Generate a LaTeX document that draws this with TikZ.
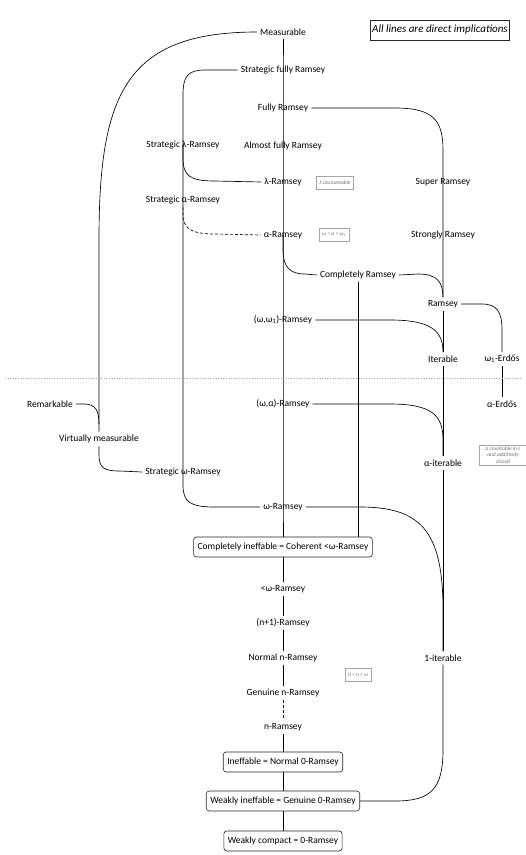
\documentclass[tikz,border=0pt]{standalone}
\usepackage{fontspec}
\setmainfont{Carlito}
\usetikzlibrary{backgrounds}
\begin{document}
\begin{tikzpicture}[x=1pt,y=-1pt,
  lbl/.style={font=\fontsize{9.5}{11}\selectfont, text=black, inner sep=3pt},
  bx/.style={lbl, draw=black!85, rounded corners=3pt, fill=white, minimum height=20pt, inner xsep=4pt, line width=0.6pt},
  note/.style={draw=black!35, text=black!55, font=\fontsize{5.5}{6.5}\selectfont\itshape, inner xsep=3pt, inner ysep=2pt, minimum height=13pt, align=center, line width=0.5pt},
  imp/.style={line width=0.65pt, draw=black},
  dsh/.style={imp, dash pattern=on 3pt off 2pt}]
\useasboundingbox (0,0) rectangle (526,855);
% title note
\node[draw=black!85, line width=0.6pt, font=\fontsize{11}{13}\selectfont\itshape, inner xsep=2pt, minimum height=20pt] (title) at (440,30) {All lines are direct implications};
% central column
\node[lbl] (m) at (283,32) {Measurable};
\node[lbl] (sfr) at (283,70) {Strategic fully Ramsey};
\node[lbl] (fr) at (283,108) {Fully Ramsey};
\node[lbl] (afr) at (283,146) {Almost fully Ramsey};
\node[lbl] (lr) at (283,182) {λ-Ramsey};
\node[lbl] (ar) at (283,235) {α-Ramsey};
\node[lbl] (ww1) at (283,320) {(ω,ω\textsubscript{1})-Ramsey};
\node[lbl] (wa) at (283,404) {(ω,α)-Ramsey};
\node[lbl] (wr) at (283,507) {ω-Ramsey};
\node[bx] (ci) at (283,547) {Completely ineffable = Coherent <ω-Ramsey};
\node[lbl] (lwr) at (283,589) {<ω-Ramsey};
\node[lbl] (n1) at (283,623) {(n+1)-Ramsey};
\node[lbl] (nn) at (283,658) {Normal n-Ramsey};
\node[lbl] (gn) at (283,693) {Genuine n-Ramsey};
\node[lbl] (nr) at (283,727) {n-Ramsey};
\node[bx] (ine) at (283,762) {Ineffable = Normal 0-Ramsey};
\node[bx] (wi) at (283,801) {Weakly ineffable = Genuine 0-Ramsey};
\node[bx] (wc) at (283,841) {Weakly compact = 0-Ramsey};
% left columns
\node[lbl] (slr) at (183,145) {Strategic λ-Ramsey};
\node[lbl] (sar) at (183,200) {Strategic α-Ramsey};
\node[lbl] (swr) at (183,472) {Strategic ω-Ramsey};
\node[lbl] (rem) at (50,404) {Remarkable};
\node[lbl] (vm) at (99,439) {Virtually measurable};
% right columns
\node[lbl] (sr) at (443,182) {Super Ramsey};
\node[lbl] (str) at (443,235) {Strongly Ramsey};
\node[lbl] (cr) at (358,275) {Completely Ramsey};
\node[lbl] (ram) at (443,304) {Ramsey};
\node[lbl] (it) at (443,359) {Iterable};
\node[lbl] (ai) at (443,463) {α-iterable};
\node[lbl] (oi) at (443,658) {1-iterable};
\node[lbl] (e1) at (502,359) {ω\textsubscript{1}-Erdős};
\node[lbl] (ea) at (502,404) {α-Erdős};
% annotations
\node[note] (nl) at (335,183) {λ uncountable};
\node[note] (na) at (334,235) {ω < α < ω\textsubscript{1}};
\node[note] (nn0) at (358,675) {0 < n < ω};
\node[note, minimum width=48pt, inner ysep=1.5pt] (nc) at (503,455) {α countable in L\\and additively\\closed};
% separator
\draw[black!35, dotted, line width=0.6pt] (5,378) -- (521,378);
\begin{scope}[on background layer]
% central vertical
\draw[imp] (m) -- (sfr.center) -- (fr.center) -- (afr.center) -- (lr.center) -- (ar.center) -- (ww1.center) -- (wa.center) -- (wr.center) -- (ci);
\draw[imp] (ci) -- (lwr);
\draw[imp] (lwr) -- (n1);
\draw[imp] (n1) -- (nn);
\draw[imp] (nn) -- (gn);
\draw[dsh] (gn) -- (nr);
\draw[imp] (nr) -- (ine);
\draw[imp] (ine) -- (wi);
\draw[imp] (wi) -- (wc);
% measurable to virtually measurable
\draw[imp] (m.west) .. controls (125,32) and (99,95) .. (99,240) -- (vm.north);
\draw[imp] (rem.east) -- (84,404) .. controls (96,404) and (99,411) .. (99,424);
\draw[imp] (vm.south) -- (99,455) .. controls (99,468) and (104,471) .. (120,471) -- (swr.west);
% strategic column
\draw[imp] (sfr.west) -- (205,70) .. controls (188,70) and (183,76) .. (183,95) -- (slr.center) -- (sar.center) -- (swr.center);
\draw[imp] (slr.center) -- (183,158) .. controls (183,176) and (190,181) .. (215,181) -- (lr.west);
\draw[dsh] (sar.south) -- (183,214) .. controls (183,228) and (190,234) .. (215,234) -- (ar.west);
\draw[imp] (swr.center) -- (183,485) .. controls (183,502) and (190,507) .. (215,507) -- (wr.west);
% right column
\draw[imp] (fr.east) -- (395,108) .. controls (433,108) and (443,120) .. (443,150) -- (sr.center) -- (str.center) -- (ram.north);
\draw[imp] (ar.center) -- (283,250) .. controls (283,267) and (290,274) .. (305,274) -- (cr.west);
\draw[imp] (cr.east) -- (418,274) .. controls (437,274) and (443,282) .. (ram.north);
\draw[imp] (cr) -- (ci.north -| cr);
\draw[imp] (ram) -- (it);
\draw[imp] (ww1.east) -- (390,320) .. controls (433,320) and (443,332) .. (it.north);
\draw[imp] (it) -- (ai);
\draw[imp] (wa.east) -- (390,404) .. controls (433,404) and (443,416) .. (443,440) -- (ai.north);
\draw[imp] (ai) -- (oi);
\draw[imp] (wr.east) -- (360,507) .. controls (420,507) and (443,530) .. (443,610) -- (oi.north);
\draw[imp] (oi.south) -- (443,750) .. controls (443,790) and (430,801) .. (395,801) -- (wi.east);
\draw[imp] (ram.east) -- (482,304) .. controls (497,304) and (502,312) .. (502,330) -- (e1.north);
\draw[imp] (e1) -- (ea);
\end{scope}
\end{tikzpicture}
\end{document}
